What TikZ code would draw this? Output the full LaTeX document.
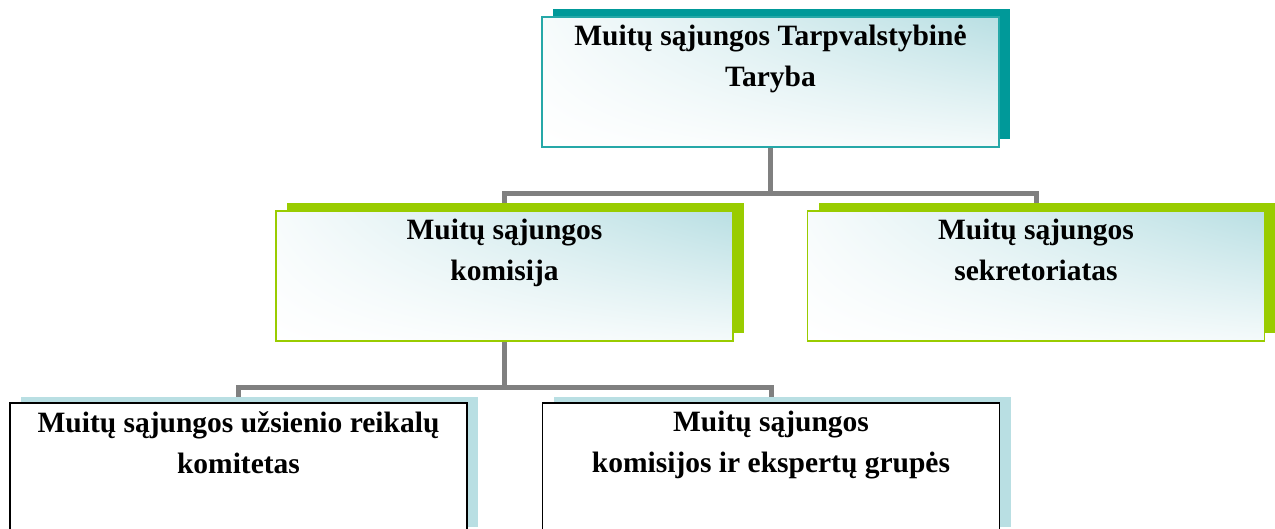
\documentclass[tikz,border=0pt]{standalone}
\usepackage{fontspec}
\setmainfont{Liberation Serif}
\usetikzlibrary{shadows,shadings,backgrounds}

\definecolor{tealdark}{HTML}{009999}
\definecolor{limegreen}{HTML}{99CC00}
\definecolor{paleteal}{HTML}{B9DFE3}
\definecolor{linkgray}{HTML}{808080}

\tikzset{
  orgbox/.style={rectangle, minimum width=457pt, minimum height=130pt, inner sep=0pt, line width=1.5pt},
  softfill/.style={upper right=paleteal, upper left=paleteal!12, lower left=white, lower right=paleteal!15},
  topbox/.style={orgbox, softfill, draw=tealdark!85,
    general shadow={fill=tealdark, shadow xshift=11pt, shadow yshift=8pt}},
  greenbox/.style={orgbox, softfill, draw=limegreen,
    general shadow={fill=limegreen, shadow xshift=11pt, shadow yshift=8pt}},
  bluebox/.style={orgbox, fill=white, draw=black,
    general shadow={fill=paleteal, shadow xshift=11pt, shadow yshift=6pt}},
  boxtext/.style={font=\bfseries\fontsize{29.5}{41}\selectfont, align=center, anchor=north, inner sep=0pt},
  link/.style={draw=linkgray, line width=5pt}
}

\begin{document}
\begin{tikzpicture}[x=1pt, y=-1pt]
      \useasboundingbox (0,0) rectangle (1275,528);
      \clip (0,0) rectangle (1275,528);
      % boxes
      \node[topbox] (taryba) at (770.5,82) {};
      \node[greenbox] (komisija) at (504.5,276) {};
      \node[greenbox] (sekretoriatas) at (1036,276) {};
      \node[bluebox] (komitetas) at (238.5,468) {};
      \node[bluebox] (grupes) at (771,468) {};
      % texts
      \node[boxtext] (tarybaT) at ([yshift=-9pt]taryba.north) {Muitų sąjungos Tarpvalstybinė\\Taryba};
      \node[boxtext] (komisijaT) at ([yshift=-9pt]komisija.north) {Muitų sąjungos\\komisija};
      \node[boxtext] (sekretoriatasT) at ([yshift=-9pt]sekretoriatas.north) {Muitų sąjungos\\sekretoriatas};
      \node[boxtext] (komitetasT) at ([yshift=-9pt]komitetas.north) {Muitų sąjungos užsienio reikalų\\komitetas};
      \node[boxtext] (grupesT) at ([yshift=-9pt]grupes.north) {Muitų sąjungos\\komisijos ir ekspertų grupės};
      % links
      \begin{scope}[on background layer]
      \draw[link] (taryba.south) -- ++(0,46) coordinate (fork1) -| (komisija.north);
      \draw[link] (fork1) -| (sekretoriatas.north);
      \draw[link] (komisija.south) -- ++(0,46) coordinate (fork2) -| (komitetas.north);
      \draw[link] (fork2) -| (grupes.north);
      \end{scope}
    \end{tikzpicture}
\end{document}
